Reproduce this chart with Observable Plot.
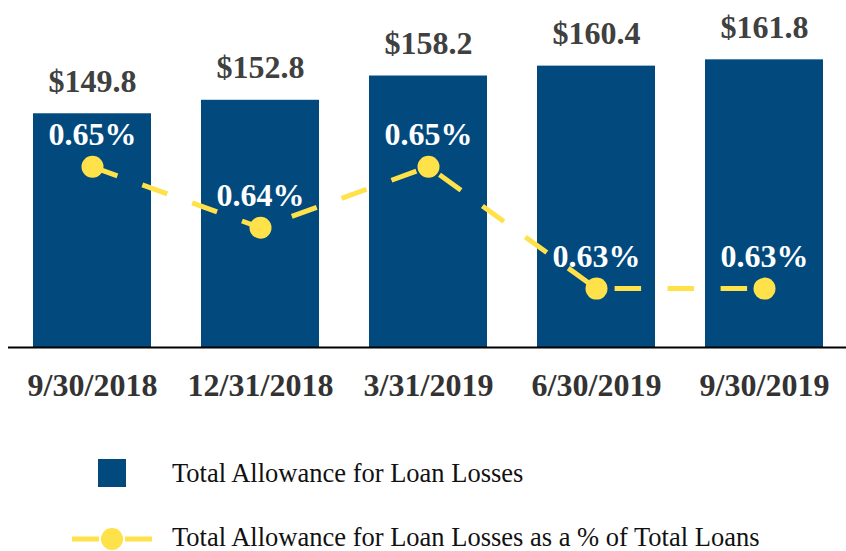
<!DOCTYPE html>
<html>
<head>
<meta charset="utf-8">
<script src="https://cdn.jsdelivr.net/npm/d3@7"></script>
<script src="https://cdn.jsdelivr.net/npm/@observablehq/plot@0.6"></script>
<style>
  html, body { margin: 0; padding: 0; background: #fff; }
  #wrap { width: 846px; height: 551px; position: relative; overflow: hidden; font-family: "Liberation Serif", "Times New Roman", serif; }
  #legend { position: absolute; left: 0; top: 420px; width: 846px; height: 131px; }
  .sw { position: absolute; left: 0; }
  .lbl { position: absolute; left: 172px; font-size: 26.5px; color: #111; white-space: nowrap; line-height: 1; }
</style>
</head>
<body>
<div id="wrap">
  <div id="chart"></div>
  <div id="legend"></div>
</div>
<script>
const dates = ["9/30/2018", "12/31/2018", "3/31/2019", "6/30/2019", "9/30/2019"];
const allowance = [149.8, 152.8, 158.2, 160.4, 161.8];
const pctOfLoans = [0.65, 0.64, 0.65, 0.63, 0.63];
const seriesNames = ["Total Allowance for Loan Losses", "Total Allowance for Loan Losses as a % of Total Loans"];

const BLUE = "#024A7E";
const YELLOW = "#FFE14A";

// secondary axis for the percentage line, mapped into the bar scale's units
const pctToY = d3.scaleLinear().domain([0.63, 0.65]).range([110.9, 138.0]);

const data = dates.map((d, i) => ({
  date: d,
  value: allowance[i],
  pct: pctOfLoans[i],
  pctY: pctToY(pctOfLoans[i])
}));

const chart = Plot.plot({
  width: 846,
  height: 420,
  marginTop: 0,
  marginBottom: 73,
  marginLeft: 8,
  marginRight: 0,
  style: { fontFamily: "'Liberation Serif', 'Times New Roman', serif", background: "transparent" },
  x: { domain: dates, range: [8, 848], paddingInner: 0.298, paddingOuter: 0.149, axis: null, label: null },
  y: { domain: [97.8, 175], axis: null },
  marks: [
    Plot.barY(data, { x: "date", y1: 97.8, y2: "value", fill: BLUE }),
    Plot.ruleY([97.8], { stroke: "#000", strokeWidth: 2 }),
    Plot.axisX({ tickSize: 0, tickPadding: 26, fontSize: 32, fontWeight: "bold", fill: "#333", label: null }),
    Plot.text(data, {
      x: "date", y: "value", text: d => "$" + d.value.toFixed(1),
      dy: -22, lineAnchor: "bottom", fontSize: 32, fontWeight: "bold", fill: "#404040"
    }),
    Plot.line(data, {
      x: "date", y: "pctY", stroke: YELLOW, strokeWidth: 5,
      strokeDasharray: "26.5,26.5", strokeLinecap: "butt"
    }),
    Plot.dot(data, { x: "date", y: "pctY", r: 11, fill: YELLOW, stroke: "none" }),
    Plot.text(data, {
      x: "date", y: "pctY", text: d => d.pct.toFixed(2) + "%",
      dy: -22, lineAnchor: "bottom", fontSize: 32, fontWeight: "bold", fill: "#fff"
    })
  ]
});
document.getElementById("chart").appendChild(chart);

// legend (positions relative to legend box top at 420px)
const legend = document.getElementById("legend");
const rows = [
  { swTop: 33, lblTop: 40, name: seriesNames[0], swatch: `<rect x="98" y="6" width="28" height="28" fill="${BLUE}"/>` },
  { swTop: 99, lblTop: 104.3, name: seriesNames[1], swatch: `<line x1="72" x2="99" y1="20" y2="20" stroke="${YELLOW}" stroke-width="5"/><line x1="125" x2="152" y1="20" y2="20" stroke="${YELLOW}" stroke-width="5"/><circle cx="112" cy="20" r="11" fill="${YELLOW}"/>` }
];
rows.forEach(r => {
  const sw = document.createElementNS("http://www.w3.org/2000/svg", "svg");
  sw.setAttribute("class", "sw");
  sw.setAttribute("width", 160);
  sw.setAttribute("height", 40);
  sw.style.top = r.swTop + "px";
  sw.innerHTML = r.swatch;
  legend.appendChild(sw);
  const lbl = document.createElement("span");
  lbl.className = "lbl";
  lbl.style.top = r.lblTop + "px";
  lbl.textContent = r.name;
  legend.appendChild(lbl);
});
</script>
</body>
</html>
